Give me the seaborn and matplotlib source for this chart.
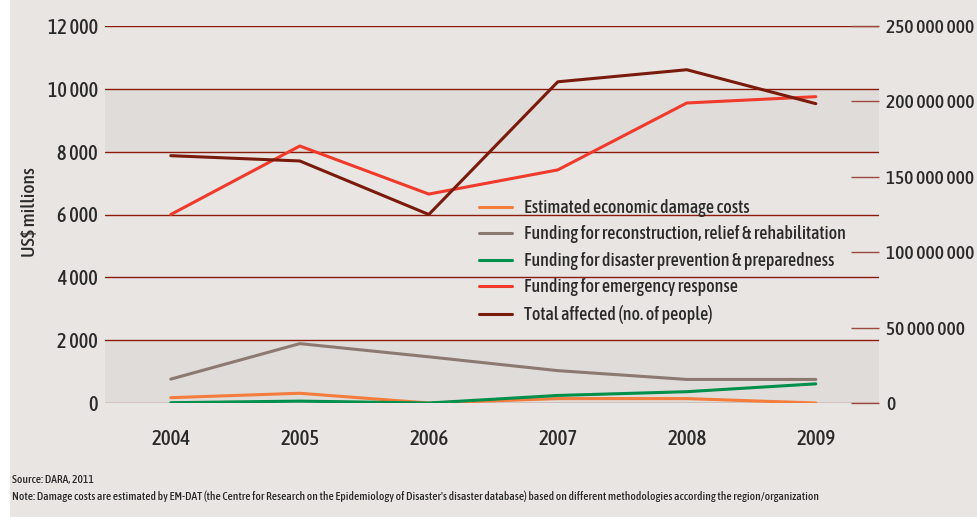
import matplotlib
matplotlib.use("Agg")
import matplotlib.pyplot as plt
import seaborn as sns
import pandas as pd
from matplotlib.lines import Line2D
from matplotlib.patches import Rectangle

years = [2004, 2005, 2006, 2007, 2008, 2009]
damage_costs = [170, 310, 0, 140, 140, 0]
reconstruction = [760, 1890, 1470, 1030, 750, 750]
prevention = [10, 60, 0, 240, 360, 610]
emergency = [6000, 8180, 6650, 7420, 9550, 9750]
total_affected = [164e6, 160.5e6, 125e6, 213e6, 221e6, 198.5e6]

series_names = [
    "Estimated economic damage costs",
    "Funding for reconstruction, relief & rehabilitation",
    "Funding for disaster prevention & preparedness",
    "Funding for emergency response",
    "Total affected (no. of people)",
]
colors = ["#f47c3c", "#8c7a72", "#00904c", "#ef3a2c", "#7a1a0c"]
left_ticks = [0, 2000, 4000, 6000, 8000, 10000, 12000]
left_labels = ["0", "2 000", "4 000", "6 000", "8 000", "10 000", "12 000"]
right_ticks = [0, 50e6, 100e6, 150e6, 200e6, 250e6]
right_labels = ["0", "50 000 000", "100 000 000", "150 000 000", "200 000 000", "250 000 000"]

sns.set_theme(style="white")
plt.rcParams["font.family"] = ["Asap Condensed", "DejaVu Sans"]
plt.rcParams["font.weight"] = 500

BG = "#e9e5e2"
BAND = "#e0dcd9"
GRID = "#8a1c0c"
TXT = "#2a2a2a"

W, H = 978, 517
fig = plt.figure(figsize=(W / 100, H / 100), dpi=100, facecolor="white")
fig.patches.append(Rectangle((10 / W, 0), 1, 1, transform=fig.transFigure,
                             facecolor=BG, edgecolor="none", zorder=-10))

x0, x1, ytop, ybot = 105, 879, 26, 403
ax = fig.add_axes([x0 / W, (H - ybot) / H, (x1 - x0) / W, (ybot - ytop) / H])
ax.set_facecolor(BG)
ax.patch.set_alpha(0)

df = pd.DataFrame({
    "year": years * 4,
    "value": damage_costs + reconstruction + prevention + emergency,
    "series": sum([[n] * len(years) for n in series_names[:4]], []),
})
ax.axhspan(8000, 10000, color=BAND, zorder=0, lw=0)
ax.axhspan(0, 2000, color=BAND, zorder=0, lw=0)
for t in left_ticks:
    ax.axhline(t, color=GRID if t else "#9a5a50", lw=1.0, zorder=1)

sns.lineplot(data=df, x="year", y="value", hue="series", hue_order=series_names[:4],
             palette=colors[:4], linewidth=2.2, ax=ax, legend=False, zorder=3)
ax.set_xlim(2003.49, 2009.49)
ax.set_ylim(0, 12000)
ax.set_yticks(left_ticks)
ax.set_yticklabels(left_labels)
ax.set_xticks(years)
ax.set_xticklabels([str(y) for y in years])
ax.tick_params(axis="y", length=0, pad=5, labelsize=14.5, labelcolor=TXT)
ax.tick_params(axis="x", length=0, pad=19, labelsize=15, labelcolor=TXT)
ax.set_xlabel("")
ax.set_ylabel("")
fig.text(30 / W, 1 - 212 / H, "US$ millions", rotation=90, fontsize=14, color=TXT,
         ha="center", va="center")
for s in ax.spines.values():
    s.set_visible(False)

ax2 = ax.twinx()
df2 = pd.DataFrame({"year": years, "value": total_affected})
sns.lineplot(data=df2, x="year", y="value", color=colors[4], linewidth=2.2, ax=ax2, zorder=3)
ax2.set_ylim(0, 250e6)
ax2.set_yticks(right_ticks)
ax2.set_yticklabels(right_labels)
ax2.tick_params(axis="y", direction="in", length=20, width=1.0, color="#9a4a40",
                pad=5, labelsize=14, labelcolor=TXT)
ax2.set_ylabel("")
for s in ax2.spines.values():
    s.set_visible(False)

handles = [Line2D([], [], color=c, lw=2.2) for c in colors]
leg = fig.legend(handles, series_names, loc="upper left",
                 bbox_to_anchor=(479 / W, 1 - 199 / H), frameon=False,
                 fontsize=13, handlelength=1.85, handletextpad=0.65,
                 labelspacing=0.47, borderpad=0, borderaxespad=0)
for t in leg.get_texts():
    t.set_color(TXT)

fig.text(12 / W, 1 - 479 / H, "Source: DARA, 2011", fontsize=8.3, color=TXT, va="center")
fig.text(12 / W, 1 - 496 / H,
         "Note: Damage costs are estimated by EM-DAT (the Centre for Research on the Epidemiology of Disaster's disaster database) based on different methodologies according the region/organization",
         fontsize=8.3, color=TXT, va="center")

fig.savefig("out.png", dpi=100, facecolor=fig.get_facecolor())
